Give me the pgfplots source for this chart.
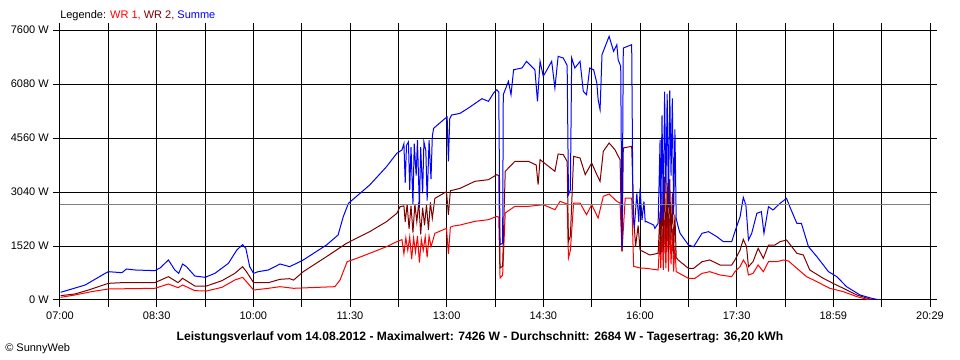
\documentclass[border=0pt]{standalone}
\usepackage{pgfplots}
\pgfplotsset{compat=1.18}
\usepackage{fontspec}
\setmainfont{Liberation Sans}
\definecolor{wra}{RGB}{255,0,0}
\definecolor{wrb}{RGB}{128,0,0}
\definecolor{summe}{RGB}{0,0,255}
\definecolor{avg}{RGB}{128,128,128}
\begin{document}
\fontsize{8.25pt}{10pt}\selectfont
\begin{tikzpicture}
\useasboundingbox (-45pt,-45pt) rectangle (675pt,225pt);
\begin{axis}[
  scale only axis,
  width=652.5pt, height=202.5pt,
  xmin=7, xmax=20.483333, ymin=0, ymax=7600,
  xtick={7.0,7.749074,8.498148,9.247222,9.996296,10.745370,11.494444,12.243519,12.992593,13.741667,14.490741,15.239815,15.988889,16.737963,17.487037,18.236111,18.985185,19.734259,20.483333},
  xticklabels={\mbox{07:00},,\mbox{08:30},,\mbox{10:00},,\mbox{11:30},,\mbox{13:00},,\mbox{14:30},,\mbox{16:00},,\mbox{17:30},,\mbox{18:59},,\mbox{20:29}},
  ytick={0,1520,3040,4560,6080,7600},
  yticklabels={\mbox{0 W},\mbox{1520 W},\mbox{3040 W},\mbox{4560 W},\mbox{6080 W},\mbox{7600 W}},
  tick align=outside,
  major tick length=5pt,
  tick style={black, line width=0.75pt},
  grid=major,
  major grid style={black, line width=0.75pt},
  axis line style={black, line width=0.75pt},
  ticklabel style={font=\fontsize{8.25pt}{10pt}\selectfont},
  xticklabel style={yshift=-1pt},
  yticklabel style={xshift=-0.5pt},
  every axis plot/.append style={line width=0.75pt, mark=none},
]
% WR 1
\addplot[wra] coordinates {
(7.01,75) (7.23,141) (7.49,235) (7.75,310) (8.47,329) (8.68,450) (8.83,347) (8.90,422)
(9.09,263) (9.27,253) (9.51,357) (9.71,563) (9.83,638) (9.89,516) (10.00,281) (10.23,329)
(10.41,375) (10.62,329) (11.26,375) (11.34,563) (11.45,1078) (11.60,1173) (11.80,1314)
(12.06,1501) (12.22,1642)
(12.30,1700) (12.33,1300) (12.36,1750) (12.39,1400) (12.42,1780) (12.45,1150) (12.48,1750)
(12.51,1350) (12.54,1800) (12.57,1050) (12.60,1700) (12.63,1400) (12.66,1780) (12.69,1200)
(12.72,1800) (12.75,1500) (12.81,1877) (12.99,2017) (13.02,1300) (13.05,2050) (13.10,2083)
(13.20,2111) (13.43,2214) (13.64,2261) (13.77,2355) (13.80,2330) (13.82,619) (13.86,700)
(13.90,2449) (14.05,2636) (14.26,2636) (14.49,2683) (14.67,2542) (14.75,2777) (14.86,2700)
(14.88,1182) (14.91,1400) (14.96,2730) (15.06,2730) (15.16,2402) (15.24,2683) (15.34,2308)
(15.42,2918) (15.51,2983) (15.63,2777) (15.68,2730) (15.71,1370) (15.76,2871) (15.86,2871)
(15.89,948) (15.99,901) (16.09,891) (16.27,845)
(16.30,1800) (16.31,900) (16.33,2000) (16.35,850) (16.37,2252) (16.39,900) (16.41,2500)
(16.43,800) (16.45,2300) (16.47,1000) (16.49,2000) (16.51,800) (16.53,1500) (16.55,800)
(16.58,769) (16.74,610) (16.84,610) (16.95,750) (17.07,797) (17.23,704) (17.41,657)
(17.46,797) (17.54,938) (17.59,1126) (17.64,985) (17.67,704) (17.74,750) (17.82,985)
(17.90,797) (17.98,1078) (18.11,1078) (18.21,1126) (18.29,1098) (18.42,891) (18.57,657)
(18.73,516) (18.93,329) (19.14,235) (19.35,94) (19.55,0)
};
% WR 2
\addplot[wrb] coordinates {
(7.01,122) (7.23,169) (7.44,281) (7.75,469) (7.96,488) (8.47,488) (8.68,657) (8.83,488)
(8.90,610) (9.09,394) (9.27,394) (9.51,544) (9.71,750) (9.83,938) (9.89,797) (10.00,488)
(10.23,488) (10.41,582) (10.56,600) (10.62,560) (10.77,797) (11.13,1220) (11.44,1595)
(11.80,1924) (12.06,2205) (12.22,2440) (12.27,2627)
(12.33,2650) (12.35,2200) (12.38,2700) (12.41,2000) (12.44,2650) (12.47,1900) (12.50,2700)
(12.53,2200) (12.56,2750) (12.59,1850) (12.62,2600) (12.65,2100) (12.68,2700) (12.71,1970)
(12.74,2750) (12.77,2300) (12.81,2862) (12.99,3050) (13.02,2400) (13.05,3080) (13.10,3096)
(13.20,3143) (13.43,3340) (13.64,3387) (13.77,3528) (13.80,3500) (13.82,901) (13.86,950)
(13.90,3622) (14.05,3903) (14.26,3903) (14.38,3800) (14.41,3246) (14.44,3950) (14.67,3622)
(14.72,4110) (14.80,4091) (14.86,3900) (14.88,1651) (14.91,1800) (14.96,4044) (15.06,3997)
(15.14,3528) (15.24,3856) (15.32,3528) (15.37,3340) (15.42,4185) (15.51,4419) (15.60,4232)
(15.68,3950) (15.71,1370) (15.73,4279) (15.86,4325) (15.89,2402) (15.92,1500) (15.96,2100)
(15.99,1407) (16.14,1267) (16.27,1314)
(16.30,2500) (16.31,1300) (16.33,3000) (16.35,1400) (16.37,3471) (16.39,1500) (16.41,3300)
(16.43,1350) (16.45,3400) (16.47,1700) (16.49,3000) (16.51,1300) (16.53,2400) (16.55,1200)
(16.58,1126) (16.74,891) (16.82,891) (16.95,1078) (17.07,1126) (17.23,985) (17.41,985)
(17.46,1126) (17.54,1407) (17.59,1708) (17.64,1501) (17.67,938) (17.74,1078) (17.82,1454)
(17.90,1173) (17.98,1548) (18.08,1548) (18.16,1642) (18.26,1689) (18.42,1314) (18.52,1267)
(18.62,845) (18.83,610) (18.98,469) (19.14,329) (19.35,141) (19.60,0)
};
% Summe
\addplot[summe] coordinates {
(7.01,217) (7.13,281) (7.39,422) (7.70,750) (7.75,797) (7.96,769) (8.03,873) (8.16,845)
(8.47,826) (8.55,900) (8.68,1126) (8.78,845) (8.84,750) (8.90,1013) (8.96,938) (9.09,675)
(9.25,638) (9.40,750) (9.61,1032) (9.74,1407) (9.83,1557) (9.88,1454) (9.94,938) (10.00,750)
(10.07,797) (10.23,845) (10.41,1013) (10.56,938) (10.77,1126) (11.13,1548) (11.31,1830)
(11.39,2345) (11.47,2721) (11.65,3003) (11.80,3237) (12.06,3752) (12.22,4129) (12.30,4222)
(12.33,4400) (12.35,3300) (12.37,4350) (12.40,4450) (12.42,3100) (12.44,4300) (12.47,2700)
(12.49,4400) (12.52,3500) (12.54,4500) (12.57,2600) (12.59,4300) (12.62,3000) (12.64,4450)
(12.67,4200) (12.69,2800) (12.72,4500) (12.75,3400) (12.77,4600) (12.79,4832) (12.97,5114)
(13.00,5150) (13.02,3900) (13.04,5100) (13.07,5207) (13.20,5254) (13.33,5404) (13.54,5667)
(13.64,5592) (13.72,5827) (13.77,5921) (13.80,5850) (13.82,1557) (13.86,1600) (13.87,5780)
(13.95,6156) (13.99,5780) (14.03,6482) (14.16,6530) (14.23,6718) (14.36,6482) (14.40,5592)
(14.44,6718) (14.49,6296) (14.62,6718) (14.67,5967) (14.72,6859) (14.80,6811) (14.86,6600)
(14.88,2965) (14.91,3100) (14.93,6811) (14.98,6530) (15.06,6718) (15.11,5874) (15.16,5780)
(15.21,6530) (15.27,6482) (15.32,6108) (15.34,5639) (15.37,5358) (15.40,6906) (15.47,7234)
(15.51,7422) (15.58,7000) (15.63,7187) (15.65,6765) (15.69,6577) (15.71,1464) (15.73,7093)
(15.86,7187) (15.88,2400) (15.90,2027) (15.94,3000) (15.97,2200) (15.99,3152) (16.02,2250)
(16.05,2777) (16.07,2200) (16.09,2205) (16.20,2111) (16.22,2017) (16.27,2158)
(16.30,4504) (16.31,2200) (16.33,5200) (16.35,2300) (16.37,5864) (16.39,3000) (16.41,5800)
(16.43,2600) (16.45,5900) (16.47,3500) (16.49,5677) (16.51,2400) (16.53,4800) (16.55,2300)
(16.58,2064) (16.61,1877) (16.74,1548) (16.82,1501) (16.95,1877) (17.05,1924) (17.18,1783)
(17.28,1642) (17.41,1642) (17.46,1924) (17.54,2345) (17.59,2890) (17.63,2674) (17.67,1689)
(17.72,1877) (17.80,2440) (17.87,2486) (17.91,1877) (17.98,2627) (18.05,2533) (18.16,2721)
(18.26,2862) (18.31,2627) (18.42,2158) (18.49,2158) (18.60,1501) (18.73,1220) (18.91,797)
(19.04,657) (19.19,375) (19.40,141) (19.58,47) (19.71,0)
};
% Durchschnitt
\addplot[avg] coordinates {(7,2684) (20.483333,2684)};
\end{axis}
\node[anchor=west, inner sep=0pt] at (0pt,213pt) {Legende: \textcolor{wra}{WR 1,} \textcolor{wrb}{WR 2,} \textcolor{summe}{Summe}};
\node[inner sep=0pt] at (315pt,-27.75pt) {\fontsize{9.1pt}{11pt}\selectfont\bfseries Leistungsverlauf vom 14.08.2012 - Maximalwert: 7426 W - Durchschnitt: 2684 W - Tagesertrag: 36,20 kWh};
\node[anchor=west, inner sep=0pt] at (-41.25pt,-36.5pt) {\textcopyright{} SunnyWeb};
\end{tikzpicture}
\end{document}
